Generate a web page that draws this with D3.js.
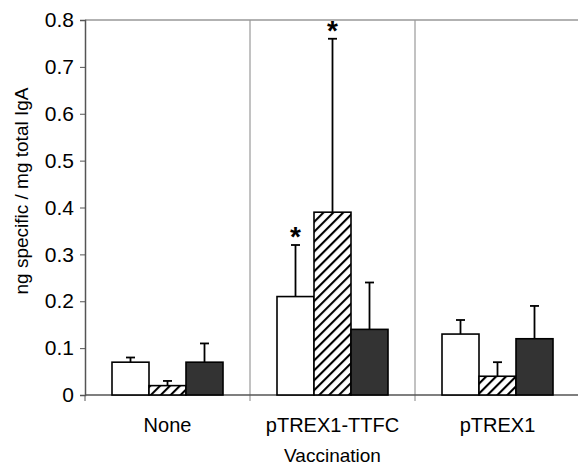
<!DOCTYPE html>
<html>
<head>
<script src="https://d3js.org/d3.v7.min.js"></script>
<style>
  body { margin: 0; background: #fff; }
  text { font-family: "Liberation Sans", Arial, sans-serif; fill: #000; }
</style>
</head>
<body>
<svg id="chart" width="578" height="467"></svg>
<script>
// data
const groups = ["None", "pTREX1-TTFC", "pTREX1"];
const series = ["white", "hatched", "dark"];
const means = [
  [0.07, 0.02, 0.07],
  [0.21, 0.39, 0.14],
  [0.13, 0.04, 0.12]
];
const upper = [
  [0.08, 0.03, 0.11],
  [0.32, 0.76, 0.24],
  [0.16, 0.07, 0.19]
];
const starred = [[false, false, false], [true, true, false], [false, false, false]];
const yTicks = [0, 0.1, 0.2, 0.3, 0.4, 0.5, 0.6, 0.7, 0.8];

const svg = d3.select("#chart");
const margin = {top: 20, left: 85};
const plotRight = 580, plotBottom = 395;

const x = d3.scaleBand().domain(groups).range([margin.left, plotRight]);
const xs = d3.scaleBand().domain(series).range([0, 111]);
const y = d3.scaleLinear().domain([0, 0.8]).range([plotBottom, margin.top]);

// hatch pattern
const defs = svg.append("defs");
defs.append("pattern")
  .attr("id", "hatch")
  .attr("patternUnits", "userSpaceOnUse")
  .attr("width", 7).attr("height", 7)
  .attr("patternTransform", "rotate(45)")
  .call(p => {
    p.append("rect").attr("width", 7).attr("height", 7).attr("fill", "#fff");
    p.append("line").attr("x1", 0).attr("y1", 0).attr("x2", 0).attr("y2", 7)
      .attr("stroke", "#000").attr("stroke-width", 4.2);
  });
const fills = {white: "#fff", hatched: "url(#hatch)", dark: "#333"};

// frame: top line and category separators
svg.append("line")
  .attr("x1", margin.left).attr("x2", plotRight)
  .attr("y1", y(0.8)).attr("y2", y(0.8))
  .attr("stroke", "#999").attr("stroke-width", 1.5);
groups.slice(1).forEach(g => {
  svg.append("line")
    .attr("x1", x(g)).attr("x2", x(g))
    .attr("y1", y(0.8)).attr("y2", plotBottom + 6)
    .attr("stroke", "#999").attr("stroke-width", 1.2);
});

// y axis
const yAxis = d3.axisLeft(y).tickValues(yTicks).tickSize(5).tickPadding(6)
  .tickFormat(d => d === 0 ? "0" : d3.format(".1f")(d));
const gy = svg.append("g").attr("transform", "translate(" + margin.left + ",0)").call(yAxis);
gy.attr("font-size", null).attr("font-family", null);
gy.select(".domain").attr("stroke", "#555").attr("stroke-width", 1.5);
gy.selectAll(".tick line").attr("stroke", "#555");
gy.selectAll(".tick text").style("font-size", "21px").attr("fill", "#000");

// x axis
const gx = svg.append("g").attr("transform", "translate(0," + plotBottom + ")");
gx.append("line").attr("x1", margin.left).attr("x2", plotRight)
  .attr("stroke", "#555").attr("stroke-width", 1.5);
gx.append("line").attr("x1", margin.left).attr("x2", margin.left)
  .attr("y1", 0).attr("y2", 6).attr("stroke", "#555");
groups.forEach(g => {
  gx.append("text")
    .attr("x", x(g) + x.bandwidth() / 2).attr("y", 37)
    .attr("text-anchor", "middle").style("font-size", "20px").text(g);
});

// bars
groups.forEach((g, gi) => {
  const gx0 = x(g) + x.bandwidth() / 2 - 55.5;
  series.forEach((s, si) => {
    const bx = gx0 + xs(s);
    const bw = xs.bandwidth();
    const cx = bx + bw / 2;
    // error bar
    svg.append("line").attr("x1", cx).attr("x2", cx)
      .attr("y1", y(means[gi][si])).attr("y2", y(upper[gi][si]))
      .attr("stroke", "#000").attr("stroke-width", 1.8);
    svg.append("line").attr("x1", cx - 4.5).attr("x2", cx + 4.5)
      .attr("y1", y(upper[gi][si])).attr("y2", y(upper[gi][si]))
      .attr("stroke", "#000").attr("stroke-width", 1.8);
    svg.append("rect")
      .attr("x", bx).attr("y", y(means[gi][si]))
      .attr("width", bw).attr("height", y(0) - y(means[gi][si]))
      .attr("fill", fills[s]).attr("stroke", "#000").attr("stroke-width", 1.6);
    if (starred[gi][si]) {
      svg.append("text").attr("x", cx).attr("y", y(upper[gi][si]) + 1)
        .attr("text-anchor", "middle").style("font-size", "28px").style("font-weight", "bold")
        .text("*");
    }
  });
});

// axis titles
svg.append("text")
  .attr("transform", "translate(28,191) rotate(-90)")
  .attr("text-anchor", "middle").style("font-size", "19px")
  .text("ng specific / mg total IgA");
svg.append("text")
  .attr("x", x("pTREX1-TTFC") + x.bandwidth() / 2).attr("y", 462)
  .attr("text-anchor", "middle").style("font-size", "19px")
  .text("Vaccination");
</script>
</body>
</html>
